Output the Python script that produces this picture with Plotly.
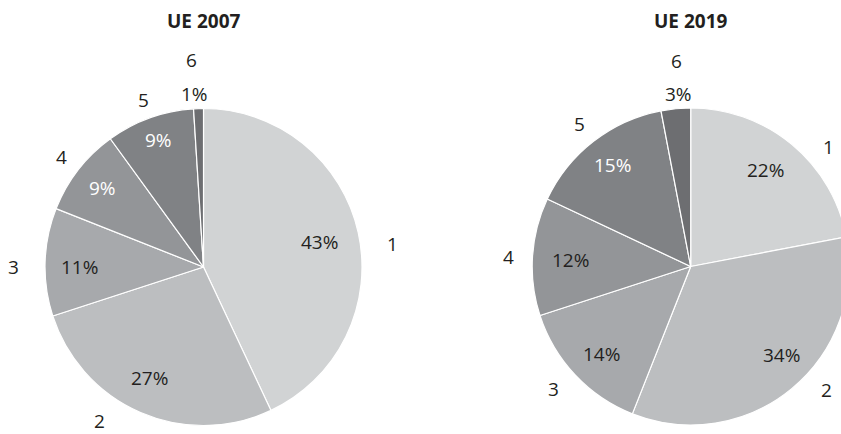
import math
import plotly.graph_objects as go

# ---- data ----
categories = ["1", "2", "3", "4", "5", "6"]
ue2007 = [43, 27, 11, 9, 9, 1]
ue2019 = [22, 34, 14, 12, 15, 3]
titles = ["UE 2007", "UE 2019"]

# ---- style ----
slice_colors = ["#d1d3d4", "#bcbec0", "#a7a9ac", "#939598", "#808285", "#6d6e71"]
text_dark = "#231f20"
pct_text_colors = [
    [text_dark, text_dark, text_dark, "white", "white", text_dark],
    [text_dark, text_dark, text_dark, text_dark, "white", text_dark],
]
# label placement tweaks: (angle offset from slice middle in degrees, radius factor)
cat_label_pos = [
    [(5.6, 1.20), (10.8, 1.172), (-1.8, 1.20), (0, 1.13), (0, 1.12), (-1.5, 1.31)],
    [(9.4, 1.15), (-8.1, 1.16), (1.6, 1.16), (-0.6, 1.15), (0, 1.14), (1.4, 1.30)],
]
pct_label_pos = [
    [(0.6, 0.75), (2.4, 0.78), (-1.8, 0.78), (0, 0.81), (0.5, 0.85), (-1.3, 1.09)],
    [(-1.6, 0.77), (-6.1, 0.80), (-1.2, 0.79), (-0.6, 0.76), (0, 0.81), (1.3, 1.09)],
]
FONT = "Open Sans"
W, H = 860, 434
centers = [(203.5, 267.0), (690.7, 266.5)]
R = 158.5
title_y = 21

fig = go.Figure()
annotations = []

for k, (vals, title) in enumerate(zip([ue2007, ue2019], titles)):
    cx, cy = centers[k]
    fig.add_trace(go.Pie(
        labels=categories,
        values=vals,
        sort=False,
        direction="clockwise",
        rotation=0,
        textinfo="none",
        hoverinfo="label+percent",
        marker=dict(colors=slice_colors, line=dict(color="white", width=1.2)),
        domain=dict(x=[(cx - R) / W, (cx + R) / W],
                    y=[(H - cy - R) / H, (H - cy + R) / H]),
        showlegend=False,
    ))
    annotations.append(dict(
        x=cx / W, y=1 - title_y / H, xref="paper", yref="paper",
        text="<b>%s</b>" % title, showarrow=False,
        font=dict(family=FONT, size=19, color=text_dark),
        xanchor="center", yanchor="middle",
    ))
    total = float(sum(vals))
    cum = 0.0
    for i, v in enumerate(vals):
        mid_deg = (cum + v / 2.0) / total * 360.0  # clockwise from top
        cum += v
        entries = [
            (pct_label_pos[k][i], "%d%%" % round(v / total * 100), pct_text_colors[k][i]),
            (cat_label_pos[k][i], categories[i], text_dark),
        ]
        for (dang, rf), txt, col in entries:
            a = math.radians(mid_deg + dang)
            px = cx + rf * R * math.sin(a)
            py = cy - rf * R * math.cos(a)
            annotations.append(dict(
                x=px / W, y=1 - py / H, xref="paper", yref="paper",
                text=txt, showarrow=False,
                font=dict(family=FONT, size=19, color=col),
                xanchor="center", yanchor="middle",
            ))

fig.update_layout(
    width=W, height=H,
    margin=dict(l=0, r=0, t=0, b=0),
    paper_bgcolor="white",
    plot_bgcolor="white",
    annotations=annotations,
)

fig.write_html(
    "out.html",
    config={"displayModeBar": False},
    post_script="document.body.style.margin='0';document.body.style.overflow='hidden';document.documentElement.style.overflow='hidden';",
)
